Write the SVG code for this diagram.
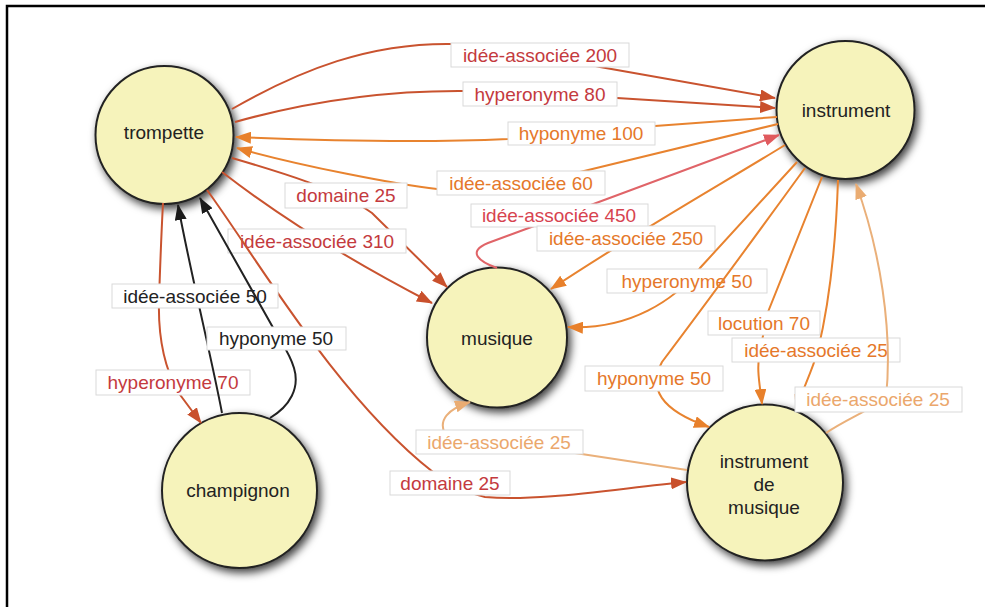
<svg xmlns="http://www.w3.org/2000/svg" width="985" height="607" viewBox="0 0 985 607">
<defs>
<style>
.e{fill:none;stroke-width:2}
.dred{stroke:#c9532f}
.orng{stroke:#e8832f}
.pink{stroke:#e06468}
.lite{stroke:#eab07a}
.blk{stroke:#222}
.box{fill:#fff;stroke:#d9d9d9;stroke-width:1}
.lt{font-family:"Liberation Sans",Arial,Helvetica,sans-serif;font-size:19px;text-anchor:middle}
.tdred{fill:#c43a3e}
.torng{fill:#e5782a}
.tpink{fill:#d7434f}
.tlite{fill:#eba76c}
.tblk{fill:#222}
.node circle{fill:#f6f3bb;stroke:#222;stroke-width:2;filter:url(#sh)}
.nt{font-family:"Liberation Sans",Arial,Helvetica,sans-serif;font-size:19px;text-anchor:middle;fill:#222}
</style>
<filter id="sh" x="-30%" y="-30%" width="160%" height="160%">
<feDropShadow dx="3" dy="4" stdDeviation="4" flood-color="#000" flood-opacity="0.75"/>
</filter>
<marker id="m-dred" viewBox="0 0 16 12" refX="15" refY="6" markerWidth="16" markerHeight="12" markerUnits="userSpaceOnUse" orient="auto"><path d="M0,0 L16,6 L0,12 z" fill="#c9502c"/></marker>
<marker id="m-orng" viewBox="0 0 16 12" refX="15" refY="6" markerWidth="16" markerHeight="12" markerUnits="userSpaceOnUse" orient="auto"><path d="M0,0 L16,6 L0,12 z" fill="#e8802b"/></marker>
<marker id="m-pink" viewBox="0 0 16 12" refX="15" refY="6" markerWidth="16" markerHeight="12" markerUnits="userSpaceOnUse" orient="auto"><path d="M0,0 L16,6 L0,12 z" fill="#e05a5e"/></marker>
<marker id="m-lite" viewBox="0 0 16 12" refX="15" refY="6" markerWidth="16" markerHeight="12" markerUnits="userSpaceOnUse" orient="auto"><path d="M0,0 L16,6 L0,12 z" fill="#eaac72"/></marker>
<marker id="m-blk" viewBox="0 0 16 12" refX="15" refY="6" markerWidth="16" markerHeight="12" markerUnits="userSpaceOnUse" orient="auto"><path d="M0,0 L16,6 L0,12 z" fill="#1a1a1a"/></marker>
</defs>
<rect x="0" y="0" width="985" height="607" fill="#fff"/>
<path d="M7,615 V6 H990" fill="none" stroke="#000" stroke-width="2.5"/>

<g id="node-trompette" class="node"><circle cx="164.5" cy="135" r="69"/><text class="nt" x="164" y="139">trompette</text></g>
<g id="node-instrument" class="node"><circle cx="845.5" cy="110" r="69"/><text class="nt" x="846" y="117">instrument</text></g>
<g id="node-musique" class="node"><circle cx="497" cy="337.5" r="70"/><text class="nt" x="497" y="345">musique</text></g>
<g id="node-champignon" class="node"><circle cx="239.5" cy="490.5" r="77.5"/><text class="nt" x="238" y="497">champignon</text></g>
<g id="node-instrument-de-musique" class="node"><circle cx="765" cy="482.5" r="78"/><text class="nt" x="764" y="468">instrument</text><text class="nt" x="764" y="491">de</text><text class="nt" x="764" y="514">musique</text></g>

<g id="connectors">
<g id="e1"><path class="e dred" d="M232,109 C300,70 370,42 455,44 C520,46 565,60 600,67 L775,98" marker-end="url(#m-dred)"/><rect class="box" x="451" y="43" width="178" height="24"/><text class="lt tdred" x="540" y="62">idée-associée 200</text></g>
<g id="e2"><path class="e dred" d="M235,122 C320,98 400,90 470,91 L617,98 L775,108" marker-end="url(#m-dred)"/><rect class="box" x="463" y="82" width="154" height="24"/><text class="lt tdred" x="540" y="101">hyperonyme 80</text></g>
<g id="e3"><path class="e orng" d="M777,117 L655,126 L508,139 C420,143 330,141 236,137" marker-end="url(#m-orng)"/><rect class="box" x="508" y="122" width="147" height="23"/><text class="lt torng" x="581" y="140">hyponyme 100</text></g>
<g id="e4"><path class="e orng" d="M778,124 L580,172 L437,189 C400,185 300,166 237,148" marker-end="url(#m-orng)"/><rect class="box" x="437" y="171" width="168" height="24"/><text class="lt torng" x="521" y="190">idée-associée 60</text></g>
<g id="e5"><path class="e dred" d="M232,158 C280,172 340,190 372,213 L447,287" marker-end="url(#m-dred)"/><rect class="box" x="285" y="183" width="122" height="25"/><text class="lt tdred" x="346" y="202">domaine 25</text></g>
<g id="e6"><path class="e dred" d="M222,172 Q310,240 432,303" marker-end="url(#m-dred)"/><rect class="box" x="228" y="229" width="178" height="24"/><text class="lt tdred" x="317" y="248">idée-associée 310</text></g>
<g id="e7"><path class="e dred" d="M207,190 C255,255 335,395 433,472 C450,485 465,493 485,497 C540,502 620,488 686,482" marker-end="url(#m-dred)"/><rect class="box" x="390" y="471" width="120" height="24"/><text class="lt tdred" x="450" y="490">domaine 25</text></g>
<g id="e8"><path class="e pink" d="M497,268 C480,262 466,252 488,243 L545,222 L779,135" marker-end="url(#m-pink)"/><rect class="box" x="471" y="204" width="177" height="23"/><text class="lt tpink" x="559" y="222">idée-associée 450</text></g>
<g id="e9"><path class="e orng" d="M785,145 C720,185 640,230 551,289" marker-end="url(#m-orng)"/><rect class="box" x="537" y="226" width="178" height="25"/><text class="lt torng" x="626" y="245">idée-associée 250</text></g>
<g id="e10"><path class="e orng" d="M797,162 L700,268 C675,300 630,330 568,327" marker-end="url(#m-orng)"/><rect class="box" x="607" y="269" width="160" height="24"/><text class="lt torng" x="687" y="288">hyperonyme 50</text></g>
<g id="e11"><path class="e orng" d="M805,168 Q720,285 662,362 C648,388 660,410 709,427" marker-end="url(#m-orng)"/><rect class="box" x="585" y="366" width="138" height="25"/><text class="lt torng" x="654" y="385">hyponyme 50</text></g>
<g id="e12"><path class="e orng" d="M822,177 L768,312 L760,350 C756,370 760,385 762,404" marker-end="url(#m-orng)"/><rect class="box" x="708" y="311" width="112" height="24"/><text class="lt torng" x="764" y="330">locution 70</text></g>
<g id="e13"><path class="e orng" d="M838,180 C836,240 830,300 818,350 C812,372 802,390 796,410" marker-end="url(#m-orng)"/><rect class="box" x="732" y="338" width="168" height="24"/><text class="lt torng" x="816" y="357">idée-associée 25</text></g>
<g id="e14"><path class="e lite" d="M826,433 C845,420 870,410 886,398 C893,330 880,250 856,184" marker-end="url(#m-lite)"/><rect class="box" x="795" y="387" width="167" height="25"/><text class="lt tlite" x="878" y="406">idée-associée 25</text></g>
<g id="e15"><path class="e lite" d="M687,470 L575,453 L445,434 C438,420 448,409 470,402" marker-end="url(#m-lite)"/><rect class="box" x="416" y="430" width="167" height="24"/><text class="lt tlite" x="499" y="449">idée-associée 25</text></g>
<g id="e16"><path class="e dred" d="M163,203 C161,240 160,270 159,300 C158,335 163,365 178,392 L201,423" marker-end="url(#m-dred)"/><rect class="box" x="96" y="370" width="154" height="25"/><text class="lt tdred" x="173" y="389">hyperonyme 70</text></g>
<g id="e17"><path class="e blk" d="M222,413 C212,360 190,270 178,205" marker-end="url(#m-blk)"/><rect class="box" x="112" y="284" width="166" height="24"/><text class="lt tblk" x="195" y="303">idée-associée 50</text></g>
<g id="e18"><path class="e blk" d="M270,418 C290,406 300,388 294,368 C290,355 285,348 280,340 L200,198" marker-end="url(#m-blk)"/><rect class="box" x="207" y="327" width="139" height="23"/><text class="lt tblk" x="276" y="345">hyponyme 50</text></g>
</g>
</svg>
